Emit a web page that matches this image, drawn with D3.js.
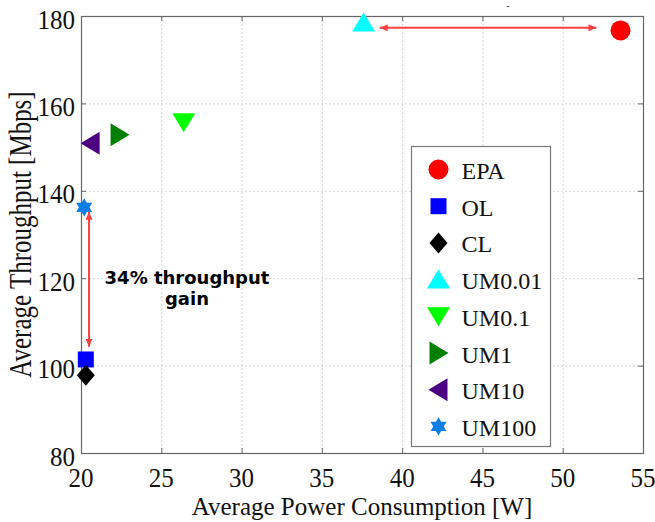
<!DOCTYPE html>
<html>
<head>
<meta charset="utf-8">
<script src="https://cdn.jsdelivr.net/npm/d3@7"></script>
<style>
  body { margin: 0; background: #fff; }
  svg { display: block; }
</style>
</head>
<body>
<svg id="chart" width="655" height="522"></svg>
<script>
// Scheme names, measured average power [W] and throughput [Mbps]
const categories = ["EPA", "OL", "CL", "UM0.01", "UM0.1", "UM1", "UM10", "UM100"];
const power      = [53.6, 20.3, 20.3, 37.6, 26.4, 22.4, 20.6, 20.2];
const throughput = [176.7, 101.4, 97.8, 178.5, 155.7, 152.8, 150.9, 136.2];

// Axis ticks
const xTicks = [20, 25, 30, 35, 40, 45, 50, 55];
const yTicks = [80, 100, 120, 140, 160, 180];

// Double-headed annotation arrows (data units)
const arrowFrom = [[38.6, 177.3], [20.5, 135.2]];
const arrowTo   = [[52.1, 177.3], [20.5, 104.3]];
const noteLines = ["34% throughput", "gain"];

// Marker appearance per scheme
const markerStyle = {
  "EPA":    { shape: "circle",   color: "#ff0000" },
  "OL":     { shape: "square",   color: "#0000ff" },
  "CL":     { shape: "diamond",  color: "#000000" },
  "UM0.01": { shape: "triUp",    color: "#00ffff" },
  "UM0.1":  { shape: "triDown",  color: "#00ff00" },
  "UM1":    { shape: "triRight", color: "#008000" },
  "UM10":   { shape: "triLeft",  color: "#4b0082" },
  "UM100":  { shape: "hexagram", color: "#0f7ee6" }
};

const svg = d3.select("#chart");
const plotL = 81, plotR = 643, plotT = 16, plotB = 453;

const x = d3.scaleLinear().domain([20, 55]).range([plotL, plotR]);
const y = d3.scaleLinear().domain([80, 180]).range([plotB, plotT]);

function shapePath(shape) {
  switch (shape) {
    case "circle":   return d3.symbol(d3.symbolCircle, Math.PI * 10 * 10)();
    case "square":   return "M-8,-8H8V8H-8Z";
    case "diamond":  return "M0,-10.5L9,0L0,10.5L-9,0Z";
    case "triUp":    return "M0,-10L11.5,9L-11.5,9Z";
    case "triDown":  return "M0,10L11.5,-9L-11.5,-9Z";
    case "triRight": return "M10,0L-9,-11.5L-9,11.5Z";
    case "triLeft":  return "M-10,0L9,-11.5L9,11.5Z";
    case "hexagram": {
      const R = 9.2, r = R / Math.sqrt(3);
      const pts = d3.range(12).map(i => {
        const a = -Math.PI / 2 + i * Math.PI / 6;
        const rad = i % 2 === 0 ? R : r;
        return [rad * Math.cos(a), rad * Math.sin(a)];
      });
      return "M" + pts.map(p => p.join(",")).join("L") + "Z";
    }
  }
}

// Dashed grid
const grid = svg.append("g").attr("stroke", "#d6d6d6").attr("stroke-dasharray", "2,2").attr("stroke-width", 1);
grid.selectAll("line.gx").data(xTicks.slice(1, -1)).join("line")
  .attr("x1", d => x(d) + 0.5).attr("x2", d => x(d) + 0.5)
  .attr("y1", plotT).attr("y2", plotB);
grid.selectAll("line.gy").data(yTicks.slice(1, -1)).join("line")
  .attr("y1", d => y(d) + 0.5).attr("y2", d => y(d) + 0.5)
  .attr("x1", plotL).attr("x2", plotR);

// Inward ticks on all four sides
function tickAxis(axis, tx, ty) {
  const g = svg.append("g").attr("transform", `translate(${tx},${ty})`).call(axis);
  g.select(".domain").remove();
  g.selectAll("text").remove();
  g.selectAll("line").attr("stroke", "#666");
}
tickAxis(d3.axisBottom(x).tickValues(xTicks).tickSize(-5).tickSizeOuter(0), 0, plotB);
tickAxis(d3.axisTop(x).tickValues(xTicks).tickSize(-5).tickSizeOuter(0), 0, plotT);
tickAxis(d3.axisLeft(y).tickValues(yTicks).tickSize(-5).tickSizeOuter(0), plotL, 0);
tickAxis(d3.axisRight(y).tickValues(yTicks).tickSize(-5).tickSizeOuter(0), plotR, 0);

// Plot frame
svg.append("rect")
  .attr("x", plotL + 0.5).attr("y", plotT + 0.5)
  .attr("width", plotR - plotL).attr("height", plotB - plotT)
  .attr("fill", "none").attr("stroke", "#666").attr("stroke-width", 1.2);

// Tick labels
const serif = "'Liberation Serif', 'Times New Roman', serif";
svg.append("g").selectAll("text").data(xTicks).join("text")
  .attr("transform", d => `translate(${x(d)},${plotB + 34}) scale(1,1.08)`)
  .attr("text-anchor", "middle")
  .attr("font-family", serif).attr("font-size", 25).attr("fill", "#111")
  .text(d => d);
svg.append("g").selectAll("text").data(yTicks).join("text")
  .attr("transform", d => `translate(${plotL - 6},${y(d) + 12.5}) scale(1,1.08)`)
  .attr("text-anchor", "end")
  .attr("font-family", serif).attr("font-size", 25).attr("fill", "#111")
  .text(d => d);

// Axis titles
svg.append("text")
  .attr("x", (plotL + plotR) / 2).attr("y", 515)
  .attr("text-anchor", "middle")
  .attr("font-family", serif).attr("font-size", 25).attr("fill", "#111")
  .text("Average Power Consumption [W]");
svg.append("text")
  .attr("transform", `translate(31,${(plotT + plotB) / 2}) rotate(-90) scale(1,1.25)`)
  .attr("text-anchor", "middle")
  .attr("font-family", serif).attr("font-size", 25).attr("fill", "#111")
  .text("Average Throughput [Mbps]");

// Title remnant above the frame
svg.append("text")
  .attr("x", 508).attr("y", 9)
  .attr("text-anchor", "middle")
  .attr("font-family", serif).attr("font-size", 9).attr("font-weight", "bold").attr("fill", "#000")
  .text("-");

// Annotation arrows
svg.append("defs").append("marker")
  .attr("id", "head").attr("viewBox", "0 0 8 7")
  .attr("refX", 8).attr("refY", 3.5)
  .attr("markerWidth", 8).attr("markerHeight", 7)
  .attr("markerUnits", "userSpaceOnUse")
  .attr("orient", "auto-start-reverse")
  .append("path").attr("d", "M0,0L8,3.5L0,7Z").attr("fill", "#ff4040");
svg.append("g").selectAll("line").data(d3.range(arrowFrom.length)).join("line")
  .attr("x1", i => x(arrowFrom[i][0])).attr("y1", i => y(arrowFrom[i][1]))
  .attr("x2", i => x(arrowTo[i][0])).attr("y2", i => y(arrowTo[i][1]))
  .attr("stroke", "#ff4040").attr("stroke-width", 2)
  .attr("marker-start", "url(#head)").attr("marker-end", "url(#head)");

// Annotation text
svg.append("g").selectAll("text").data(noteLines).join("text")
  .attr("x", 187).attr("y", (d, i) => 284 + i * 21)
  .attr("text-anchor", "middle")
  .attr("font-family", "'DejaVu Sans', sans-serif").attr("font-weight", "bold")
  .attr("font-size", 18).attr("fill", "#000")
  .text(d => d);

// Data markers
svg.append("g").selectAll("path").data(categories).join("path")
  .attr("transform", (d, i) => `translate(${x(power[i])},${y(throughput[i])})`)
  .attr("d", d => shapePath(markerStyle[d].shape))
  .attr("fill", d => markerStyle[d].color);

// Legend
const lg = svg.append("g");
lg.append("rect")
  .attr("x", 411.5).attr("y", 146.5).attr("width", 139).attr("height", 300)
  .attr("fill", "#fff").attr("stroke", "#777").attr("stroke-width", 1.2);
const rows = lg.selectAll("g.row").data(categories).join("g")
  .attr("transform", (d, i) => `translate(0,${169.5 + i * 36.7})`);
rows.append("path")
  .attr("transform", "translate(438.5,0)")
  .attr("d", d => shapePath(markerStyle[d].shape))
  .attr("fill", d => markerStyle[d].color);
rows.append("text")
  .attr("x", 461.5).attr("y", 9.5)
  .attr("font-family", serif).attr("font-size", 24).attr("fill", "#111")
  .text(d => d);
</script>
</body>
</html>
